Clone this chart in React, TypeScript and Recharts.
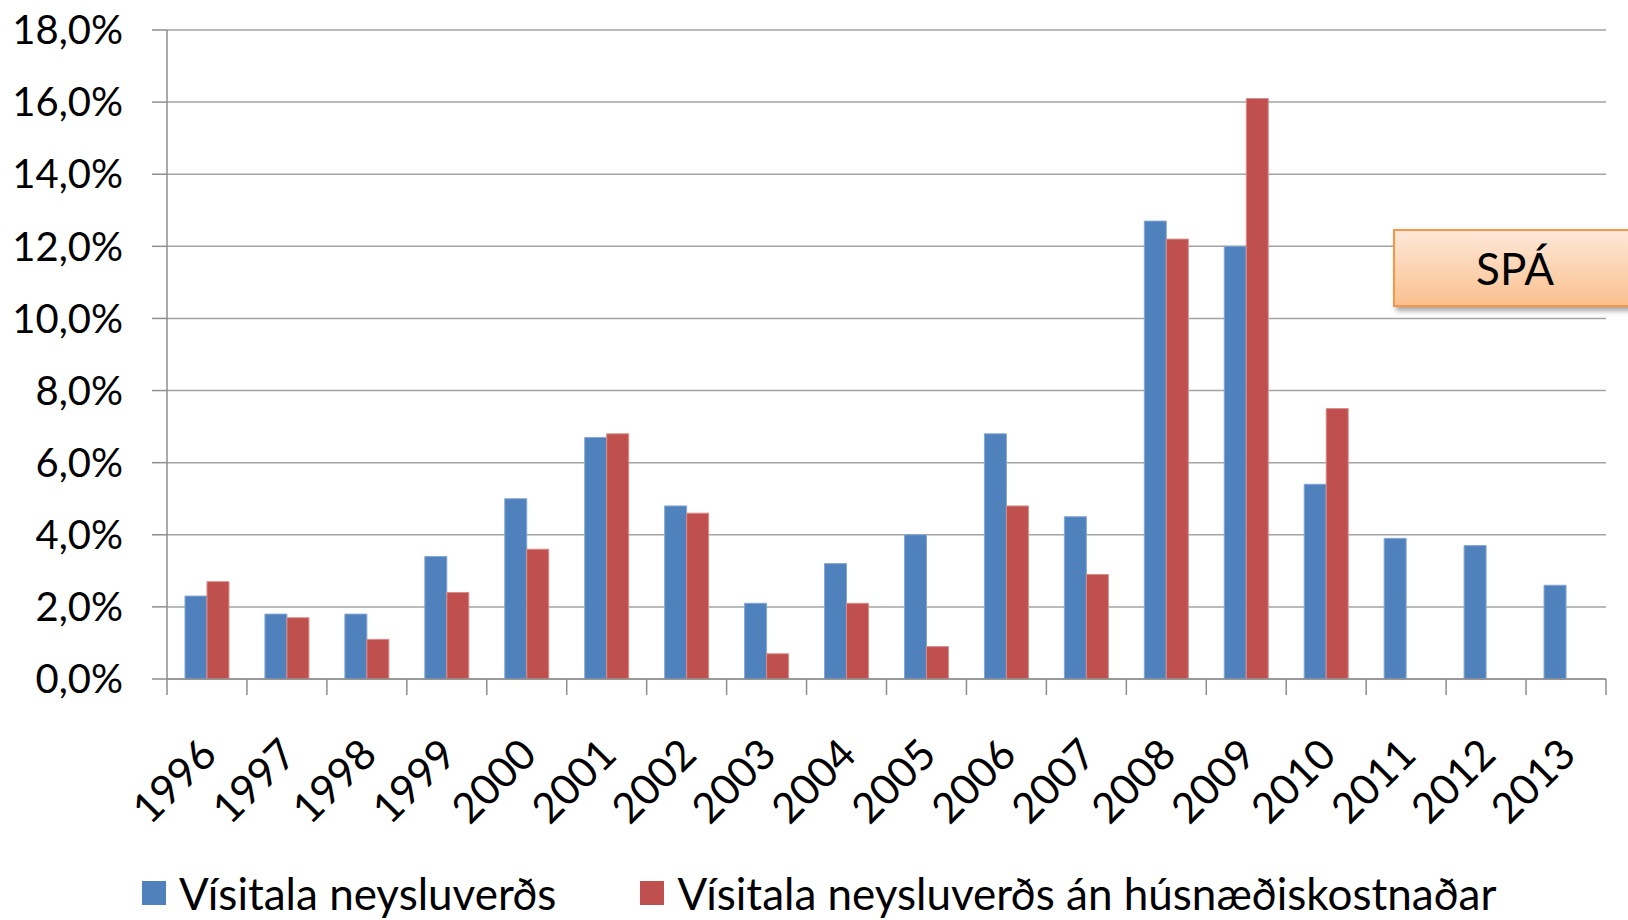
import { Bar, BarChart, CartesianGrid, Legend, XAxis, YAxis } from "recharts";

const years = [
  "1996", "1997", "1998", "1999", "2000", "2001", "2002", "2003", "2004",
  "2005", "2006", "2007", "2008", "2009", "2010", "2011", "2012", "2013",
];
const visitala = [2.3, 1.8, 1.8, 3.4, 5.0, 6.7, 4.8, 2.1, 3.2, 4.0, 6.8, 4.5, 12.7, 12.0, 5.4, 3.9, 3.7, 2.6];
const anHusnaedis = [2.7, 1.7, 1.1, 2.4, 3.6, 6.8, 4.6, 0.7, 2.1, 0.9, 4.8, 2.9, 12.2, 16.1, 7.5, null, null, null];
const yTicks = [0, 2, 4, 6, 8, 10, 12, 14, 16, 18];
const seriesNames = ["Vísitala neysluverðs", "Vísitala neysluverðs án húsnæðiskostnaðar"];
const spaLabel = "SPÁ";

const BLUE = "#4F81BD";
const RED = "#C0504D";
const AXIS = "#8e8e8e";
const FONT = "Lato, 'Open Sans', sans-serif";

const data = years.map((year, i) => ({
  year,
  visitala: visitala[i],
  an: anHusnaedis[i],
}));

const fmtPct = (v: number) => v.toFixed(1).replace(".", ",") + "%";

const YearTick = (props: any) => {
  const { x, y, payload, index, width } = props;
  const half = payload?.offset ?? width / years.length / 2;
  const tx = x + 12;
  const ty = y + 78;
  return (
    <g>
      <line x1={x - half} x2={x - half} y1={y} y2={y + 16} stroke={AXIS} strokeWidth={1.5} />
      {index === years.length - 1 && (
        <line x1={x + half} x2={x + half} y1={y} y2={y + 16} stroke={AXIS} strokeWidth={1.5} />
      )}
      <text
        x={tx}
        y={ty}
        textAnchor="end"
        transform={`rotate(-45 ${tx} ${ty})`}
        fill="#000"
        fontSize={42}
        fontFamily={FONT}
      >
        {payload.value}
      </text>
    </g>
  );
};

const LegendBox = () => (
  <div
    style={{
      display: "flex",
      alignItems: "center",
      paddingLeft: 142,
      fontFamily: FONT,
      fontSize: 44,
      color: "#000",
      height: 50,
      whiteSpace: "nowrap",
    }}
  >
    {seriesNames.map((name, i) => (
      <div key={name} style={{ display: "flex", alignItems: "center", marginRight: i === 0 ? 84 : 0 }}>
        <span
          style={{
            display: "inline-block",
            width: 24,
            height: 24,
            background: i === 0 ? BLUE : RED,
            marginRight: 13,
          }}
        />
        <span>{name}</span>
      </div>
    ))}
  </div>
);

export default function App() {
  return (
    <div style={{ position: "relative", width: 1628, height: 920, overflow: "hidden", background: "#fff" }}>
      <style>{"body{margin:0}"}</style>
      <BarChart
        width={1628}
        height={920}
        data={data}
        margin={{ top: 30, right: 22, bottom: 2, left: 0 }}
        barCategoryGap="22.5%"
        barGap={0}
      >
        <CartesianGrid vertical={false} stroke="#a3a3a3" strokeWidth={1.5} />
        <XAxis
          dataKey="year"
          interval={0}
          height={189}
          tickLine={false}
          tickSize={0}
          tickMargin={0}
          axisLine={{ stroke: AXIS, strokeWidth: 1.5 }}
          tick={<YearTick />}
        />
        <YAxis
          width={167}
          domain={[0, 18]}
          ticks={yTicks}
          tickFormatter={fmtPct}
          tickSize={15}
          tickMargin={29}
          axisLine={{ stroke: AXIS, strokeWidth: 1.5 }}
          tickLine={{ stroke: AXIS, strokeWidth: 1.5 }}
          tick={{ fill: "#000", fontSize: 40, fontFamily: FONT }}
        />
        <Legend
          verticalAlign="bottom"
          height={50}
          content={<LegendBox />}
          wrapperStyle={{ left: 0, width: 1628 }}
        />
        <Bar dataKey="visitala" name={seriesNames[0]} fill={BLUE} stroke="#86a6d4" strokeWidth={1} isAnimationActive={false} />
        <Bar dataKey="an" name={seriesNames[1]} fill={RED} stroke="#d88e8c" strokeWidth={1} isAnimationActive={false} />
      </BarChart>
      <div
        style={{
          position: "absolute",
          left: 1393,
          top: 229,
          width: 244,
          height: 78,
          boxSizing: "border-box",
          border: "2px solid #F79646",
          background: "linear-gradient(#FEE8D8, #FAC08F)",
          boxShadow: "3px 4px 5px rgba(0,0,0,0.35)",
          display: "flex",
          alignItems: "center",
          justifyContent: "center",
          fontFamily: FONT,
          fontSize: 44,
          color: "#000",
        }}
      >
        {spaLabel}
      </div>
    </div>
  );
}
